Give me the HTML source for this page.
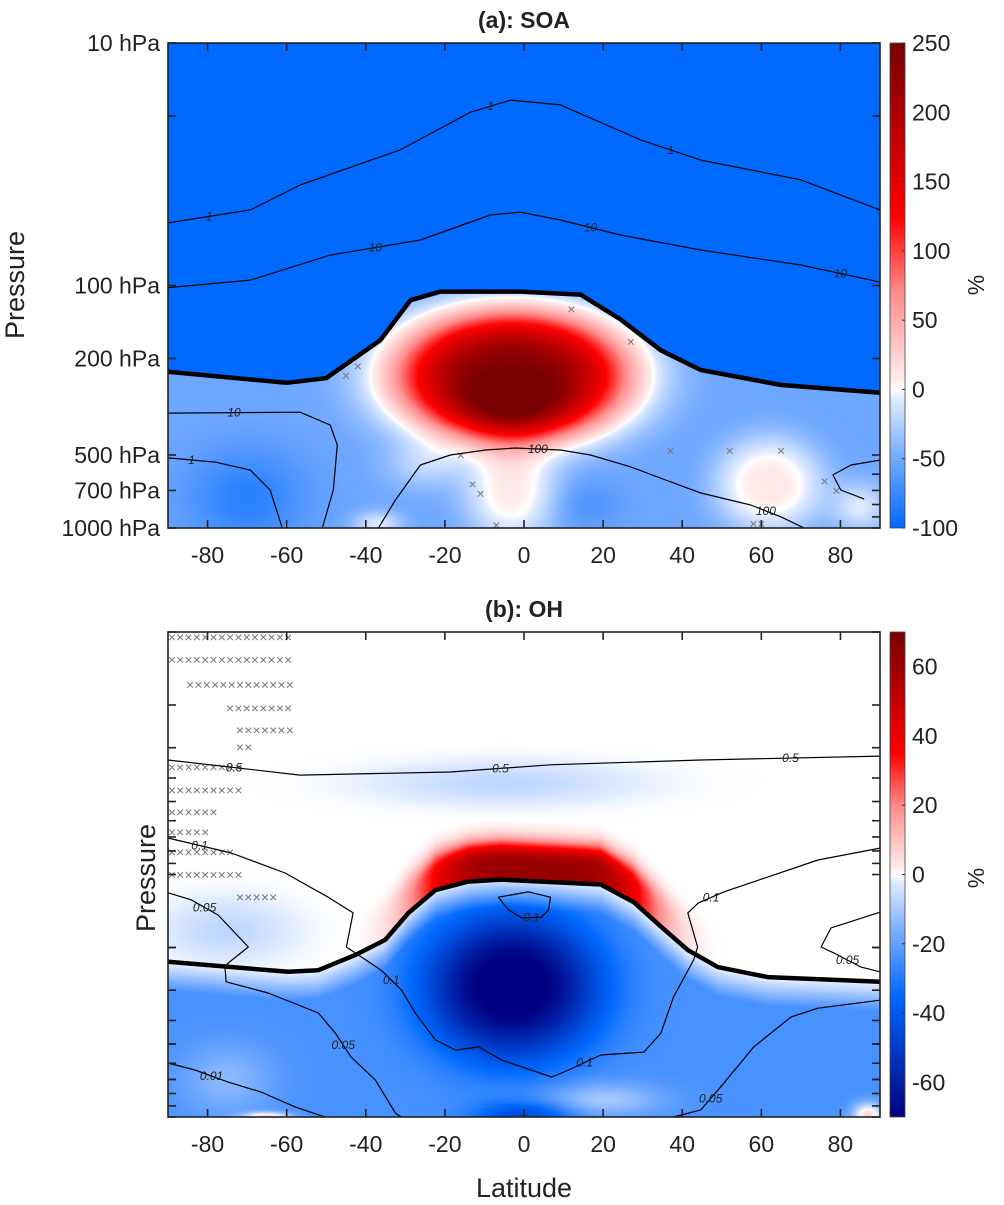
<!DOCTYPE html>
<html><head><meta charset="utf-8">
<style>
html,body{margin:0;padding:0;background:#fff;}
#wrap{position:relative;width:1004px;height:1205px;overflow:hidden;font-family:"Liberation Sans",sans-serif;}
canvas{position:absolute;}
svg{position:absolute;left:0;top:0;}
</style></head>
<body>
<div id="wrap">
<canvas id="fieldA" width="712" height="485" style="left:168px;top:43px"></canvas>
<canvas id="fieldB" width="712" height="485" style="left:168px;top:632px"></canvas>
<canvas id="cbarA" width="15" height="485" style="left:890px;top:43px"></canvas>
<canvas id="cbarB" width="15" height="485" style="left:890px;top:632px"></canvas>
<svg id="ov" width="1004" height="1205"></svg>
</div>
<script>
// ---------- data ----------
const latTicks = [-80,-60,-40,-20,0,20,40,60,80];
const presLabelsA = [10,100,200,500,700,1000];
const presMinorA = [20,600,800,900];
const presMinorB = [20,30,40,50,60,70,80,90,200,300,400,500,600,700,800,900];
const cbTicksA = [250,200,150,100,50,0,-50,-100];
const cbTicksB = [60,40,20,0,-20,-40,-60];

const tropLatA = [-90,-60,-50,-36.3,-28.7,-21.1,-0.9,14.3,24.4,34.6,44.7,64.9,90];
const tropPA   = [227,252,241,168,115,106,106,109,138,185,223,257,277];
const tropLatB = [-90,-59.6,-52,-42.7,-35.1,-29.2,-22.4,-14.1,-5.9,19.4,27.7,34.6,41.4,49,61.6,90];
const tropPB   = [229,252,248,215,186,144,116,107,105,110,130,164,205,241,265,277];

const cA1upLat = [-90,-69.2,-56.6,-31.3,-13.5,-3.4,9.2,29.5,44.7,70,90];
const cA1upP   = [55.2,48.8,38.5,27.6,19.3,17.2,18.0,25.1,30.4,36.7,48.8];
const cA10upLat = [-90,-69.2,-49,-26.2,-8.5,-0.9,9.2,24.4,44.7,70,90];
const cA10upP   = [102,95,74.9,64.9,51.2,49.8,53.7,61.9,71.4,82.3,96.8];
const cA10loLat = [-90,-56.6,-49,-47.2,-48.2,-51];
const cA10loP   = [336,333,376,455,697,1000];
const cA1loLat = [-90,-78.1,-69.2,-64.2,-61.1];
const cA1loP   = [514,535,577,697,1000];
const cA100Lat = [-36.8,-32.5,-26.2,-18.6,-9.7,-2.2,9.2,16.8,27,35.8,44.7,57.3,65,70.8];
const cA100P   = [1000,767,550,500,477,468,477,500,560,634,717,804,900,1000];
const cA10rLat = [90,82.7,78.1,80.1,86];
const cA10rP   = [525,550,604,697,760];

const cB05Lat = [-90,-56.6,-18.6,6.7,44.7,90];
const cB05P   = [33.7,38.9,37.8,35.3,33.7,32.5];
const cB01Lat = [-90,-74,-60.4,-49.5,-43.2,-44.9,-36.1,-31,-27.5,-22.4,-17.3,-11.5,-5.7,7,11.3,19.4,30.3,34.6,37.8,42.9,43.9,41.4,44.1,50.5,74.3,90];
const cB01P   = [70.7,81.5,98.6,124,144,199,248,299,372,481,530,514,582,684,640,555,540,451,320,225,199,144,131,118,87.1,77.8];
const cB05lLat = [-90,-84.2,-77.3,-69.7,-74.8,-75.6,-75.3,-64.7,-52,-47.7,-43.7,-37.6,-32.5,-31];
const cB05lP   = [119,127,147,199,232,241,277,308,372,451,566,703,964,1000];
const cB05rLat = [37.8,44.7,49.7,58.1,67.5,74.3,90];
const cB05rP   = [1000,935,752,514,387,356,330];
const cB05uLat = [90,77.6,75.1,78.4,85.2,90];
const cB05uP   = [143,166,199,211,241,252];
const cB001Lat = [-90,-83.2,-74.8,-66.5,-57.8,-50.3];
const cB001P   = [599,640,718,789,910,1000];
const cB01sLat = [-6.5,-3.9,-0.6,4.4,6.2,6.7,1.1,-6.5];
const cB01sP   = [124,140,151,150,140,124,118,124];

// field blobs panel a: [lat, p, amp, sLat, sLogP, zone, exponent]
const blobLatA = [-3,-3,-3,62,85,-37,-70,-25,15];
const blobPA   = [235,320,720,660,820,960,750,550,800];
const blobAmpA = [290,70,60,62,45,45,-30,30,-15];
const blobSLatA= [30,14,12,14,7,6,15,10,10];
const blobSLpA = [0.27,0.12,0.2,0.2,0.1,0.05,0.2,0.1,0.1];
const blobZoneA= ['t','t','t','t','t','t','t','t','t'];
const blobExpA = [1.5,1,1.3,1.5,1,1,1,1,1];
// panel b
const blobLatB = [-3,-5,-75,0,20,87,-75,-65];
const blobPB   = [290,42,170,1000,850,980,700,1000];
const blobAmpB = [-50,-7,-7,-22,14,30,10,30];
const blobSLatB= [22,30,15,12,15,4,12,6];
const blobSLpB = [0.3,0.08,0.12,0.06,0.07,0.05,0.15,0.02];
const blobZoneB= ['t','s','s','t','t','t','t','t'];
const blobExpB = [1.3,1,1,1,1,1,1,1];
// tropopause-hugging band (panel b, above tropopause): lat centre, amplitude, lat width, log-p offset, log-p width
const bandLatB = [3];
const bandAmpB = [62];
const bandSLatB = [30];
const bandOffB = [0.06];
const bandSLpB = [0.1];

const sigRowP  = [10.5,13,16.5,20.6,25.3,29.8,36,44.8,55.3,66.8,80.8,100,124];
const sigRowL0 = [-89,-89,-84.4,-74.3,-71.8,-71.8,-89,-89,-89,-89,-89,-89,-71.8];
const sigRowL1 = [-59.1,-59.1,-59.1,-59.1,-59.1,-68,-71.8,-71.8,-76.8,-79.4,-74.3,-71.8,-62.9];
const sigPtsALat = [-45,-42,12,27,-16,-13,-11,-7,37,52,65,76,79,58,60];
const sigPtsAP   = [235,215,125,170,500,660,720,970,480,480,480,640,700,960,960];

// ---------- helpers ----------
const X0=168, PW=712, PH=485, TOPA=43, TOPB=632, DEC=242.5;
function xOf(lat){return X0+(lat+90)*PW/180;}
function yOf(p,top){return top+(Math.log10(p)-1)*DEC;}
function interp(xs,ys,x){
  if(x<=xs[0])return ys[0];
  for(let i=1;i<xs.length;i++){ if(x<=xs[i]){const t=(x-xs[i-1])/(xs[i]-xs[i-1]);return ys[i-1]+t*(ys[i]-ys[i-1]);} }
  return ys[ys.length-1];
}
const cmT=[-1,-0.5,-0.25,-0.03,0,0.03,0.28,0.5,1];
const cmC=[[0,0,128],[0,105,255],[115,170,255],[225,236,255],[255,255,255],[255,236,236],[255,140,140],[255,0,0],[120,0,0]];
function cmap(t){
  t=Math.max(-1,Math.min(1,t));
  for(let i=1;i<cmT.length;i++){ if(t<=cmT[i]){const f=(t-cmT[i-1])/(cmT[i]-cmT[i-1]);const a=cmC[i-1],b=cmC[i];return [a[0]+f*(b[0]-a[0]),a[1]+f*(b[1]-a[1]),a[2]+f*(b[2]-a[2])];} }
  return cmC[cmC.length-1];
}
function normA(v){return v>=0? v/250 : v/200;}
function normB(v){return v/70;}

function drawField(id,tLat,tP,sBase,tBase,ramp,bl,bp,ba,bsl,bsp,bz,be,band,norm){
  const c=document.getElementById(id),ctx=c.getContext('2d');
  const img=ctx.createImageData(PW,PH);
  const tLp=tP.map(p=>Math.log10(p));
  const bLp=bp.map(p=>Math.log10(p));
  for(let px=0;px<PW;px++){
    const lat=-90+(px+0.5)*180/PW;
    const tr=interp(tLat,tLp,lat);
    for(let py=0;py<PH;py++){
      const lp=1+(py+0.5)/DEC;
      const strat=lp<tr;
      let v= strat? sBase : tBase*(ramp>0?Math.min(1,(lp-tr)/ramp):1);
      for(let k=0;k<bl.length;k++){
        if((bz[k]==='s')!==strat)continue;
        const dx=(lat-bl[k])/bsl[k], dy=(lp-bLp[k])/bsp[k];
        v+=ba[k]*Math.exp(-Math.pow(dx*dx+dy*dy,be[k]));
      }
      if(band && strat){
        for(let k=0;k<band.lat.length;k++){
          const dx=(lat-band.lat[k])/band.sl[k];
          const d=tr-lp;
          const dy=d<band.off[k]?0:(d-band.off[k])/band.sp[k];
          v+=band.amp[k]*Math.exp(-Math.pow(dx*dx,2))*Math.exp(-Math.pow(dy*dy,1.3));
        }
      }
      const col=cmap(norm(v));const i=(py*PW+px)*4;
      img.data[i]=col[0];img.data[i+1]=col[1];img.data[i+2]=col[2];img.data[i+3]=255;
    }
  }
  ctx.putImageData(img,0,0);
}
drawField('fieldA',tropLatA,tropPA,-100,-52,0,blobLatA,blobPA,blobAmpA,blobSLatA,blobSLpA,blobZoneA,blobExpA,null,normA);
drawField('fieldB',tropLatB,tropPB,0,-24,0.12,blobLatB,blobPB,blobAmpB,blobSLatB,blobSLpB,blobZoneB,blobExpB,
  {lat:bandLatB,amp:bandAmpB,sl:bandSLatB,off:bandOffB,sp:bandSLpB},normB);

function drawBar(id,vmax,vmin,norm){
  const ctx=document.getElementById(id).getContext('2d');
  for(let r=0;r<PH;r++){const v=vmax-(r+0.5)/PH*(vmax-vmin);const c=cmap(norm(v));
    ctx.fillStyle='rgb('+c.map(Math.round).join(',')+')';ctx.fillRect(0,r,15,1);}
}
drawBar('cbarA',250,-100,normA);
drawBar('cbarB',70,-70,normB);

// ---------- svg ----------
const NS='http://www.w3.org/2000/svg', ov=document.getElementById('ov');
function mk(tag,attrs,parent){const e=document.createElementNS(NS,tag);for(const k in attrs)e.setAttribute(k,attrs[k]);(parent||ov).appendChild(e);return e;}
function txt(s,attrs){const e=mk('text',attrs);e.textContent=s;return e;}

function line(lats,ps,top,w,name){
  const d=lats.map((l,i)=>(i?'L':'M')+xOf(l).toFixed(1)+' '+yOf(ps[i],top).toFixed(1)).join(' ');
  const e=mk('path',{d:d,fill:'none',stroke:'#000','stroke-width':w,'stroke-linejoin':'round'});
  
  
  return e;
}
function clab(lats,ps,top,i,s){
  const x=(xOf(lats[i])+xOf(lats[i+1]))/2,y=(yOf(ps[i],top)+yOf(ps[i+1],top))/2;
  const e=txt(s,{x:x,y:y+4,'font-size':12,'font-style':'italic','text-anchor':'middle',fill:'#222'});
  
  
}
function mark(lat,p,top){
  const e=txt('×',{x:xOf(lat),y:yOf(p,top)+5,'font-size':14,'text-anchor':'middle',fill:'#777'});
  
  
}
for(let i=0;i<sigPtsALat.length;i++) mark(sigPtsALat[i],sigPtsAP[i],TOPA);
for(let r=0;r<sigRowP.length;r++){for(let l=sigRowL0[r];l<=sigRowL1[r]+0.01;l+=2.1) mark(l,sigRowP[r],TOPB);}

line(cA1upLat,cA1upP,TOPA,1.2,'contour-1-upper'); clab(cA1upLat,cA1upP,TOPA,0,'1'); clab(cA1upLat,cA1upP,TOPA,4,'1'); clab(cA1upLat,cA1upP,TOPA,7,'1');
line(cA10upLat,cA10upP,TOPA,1.2,'contour-10-upper'); clab(cA10upLat,cA10upP,TOPA,2,'10'); clab(cA10upLat,cA10upP,TOPA,6,'10'); clab(cA10upLat,cA10upP,TOPA,9,'10');
line(cA10loLat,cA10loP,TOPA,1.2,'contour-10-lower'); clab(cA10loLat,cA10loP,TOPA,0,'10');
line(cA1loLat,cA1loP,TOPA,1.2,'contour-1-lower'); clab(cA1loLat,cA1loP,TOPA,0,'1');
line(cA100Lat,cA100P,TOPA,1.2,'contour-100'); clab(cA100Lat,cA100P,TOPA,5,'100'); clab(cA100Lat,cA100P,TOPA,11,'100');
line(cA10rLat,cA10rP,TOPA,1.2,'contour-10-right');
line(tropLatA,tropPA,TOPA,4.5,'tropopause-a');
line(cB05Lat,cB05P,TOPB,1.2,'contour-0.5'); clab(cB05Lat,cB05P,TOPB,0,'0.5'); clab(cB05Lat,cB05P,TOPB,2,'0.5'); clab(cB05Lat,cB05P,TOPB,4,'0.5');
line(cB01Lat,cB01P,TOPB,1.2,'contour-0.1'); clab(cB01Lat,cB01P,TOPB,0,'0.1'); clab(cB01Lat,cB01P,TOPB,6,'0.1'); clab(cB01Lat,cB01P,TOPB,14,'0.1'); clab(cB01Lat,cB01P,TOPB,22,'0.1');
line(cB05lLat,cB05lP,TOPB,1.2,'contour-0.05-left'); clab(cB05lLat,cB05lP,TOPB,1,'0.05'); clab(cB05lLat,cB05lP,TOPB,9,'0.05');
line(cB05rLat,cB05rP,TOPB,1.2,'contour-0.05-right'); clab(cB05rLat,cB05rP,TOPB,1,'0.05');
line(cB05uLat,cB05uP,TOPB,1.2,'contour-0.05-upper'); clab(cB05uLat,cB05uP,TOPB,3,'0.05');
line(cB001Lat,cB001P,TOPB,1.2,'contour-0.01'); clab(cB001Lat,cB001P,TOPB,1,'0.01');
line(cB01sLat,cB01sP,TOPB,1.2,'contour-0.1-small'); clab(cB01sLat,cB01sP,TOPB,2,'0.1');
line(tropLatB,tropPB,TOPB,4.5,'tropopause-b');

function frame(top,name,left,right,labels){
  const r=mk('rect',{x:X0,y:top,width:PW,height:PH,fill:'none',stroke:'#222','stroke-width':1.6});
  
  
  latTicks.forEach(l=>{const x=xOf(l);
    mk('line',{x1:x,y1:top+PH,x2:x,y2:top+PH-8,stroke:'#222','stroke-width':1.6});
    mk('line',{x1:x,y1:top,x2:x,y2:top+8,stroke:'#222','stroke-width':1.6});
    const t=txt(String(l),{x:x,y:top+PH+35,'font-size':23,'text-anchor':'middle',fill:'#222'});
    
    
  });
  left.forEach(p=>{const y=yOf(p,top);mk('line',{x1:X0,y1:y,x2:X0+8,y2:y,stroke:'#222','stroke-width':1.6});});
  right.forEach(p=>{const y=yOf(p,top);mk('line',{x1:X0+PW,y1:y,x2:X0+PW-8,y2:y,stroke:'#222','stroke-width':1.6});});
  labels.forEach(p=>{const t=txt(p+' hPa',{x:160,y:yOf(p,top)+8,'font-size':23,'text-anchor':'end',fill:'#222'});
    
    
  });
}
frame(TOPA,'plot-area-a',presLabelsA.concat([20]),presLabelsA.concat(presMinorA),presLabelsA);
frame(TOPB,'plot-area-b',presLabelsA.concat(presMinorB),presLabelsA.concat(presMinorB),[]);

function cbar(top,ticks,vmax,vmin,name){
  const r=mk('rect',{x:890,y:top,width:15,height:PH,fill:'none',stroke:'#444','stroke-width':0.8});
  
  
  ticks.forEach(v=>{const y=top+(vmax-v)/(vmax-vmin)*PH;
    mk('line',{x1:902,y1:y,x2:905,y2:y,stroke:'#333','stroke-width':1});
    const t=txt(String(v),{x:912,y:y+8,'font-size':23,fill:'#222'});
    
    
  });
}
cbar(TOPA,cbTicksA,250,-100,'colorbar-a-frame');
cbar(TOPB,cbTicksB,70,-70,'colorbar-b-frame');

function title(s,x,y,name,extra){const t=txt(s,Object.assign({x:x,y:y,'text-anchor':'middle',fill:'#222'},extra));
  
  }
title('(a): SOA',524,28,'title-a',{'font-size':23,'font-weight':'bold'});
title('(b): OH',524,617,'title-b',{'font-size':23,'font-weight':'bold'});
title('Latitude',524,1197,'x-axis-title',{'font-size':27});
title('Pressure',24,285,'y-axis-title-a',{'font-size':27,transform:'rotate(-90 24 285)'});
title('Pressure',155,878,'y-axis-title-b',{'font-size':27,transform:'rotate(-90 155 878)'});
title('%',984,285,'colorbar-a-title',{'font-size':23,transform:'rotate(-90 984 285)'});
title('%',984,878,'colorbar-b-title',{'font-size':23,transform:'rotate(-90 984 878)'});
</script>
</body></html>
